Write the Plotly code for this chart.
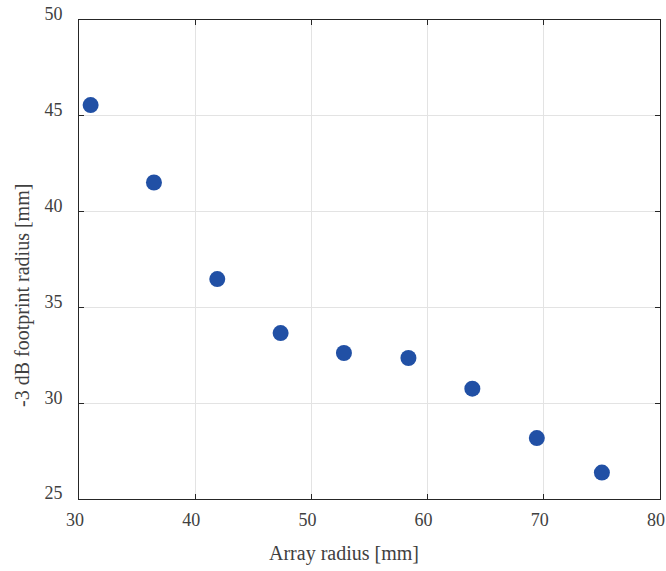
import plotly.graph_objects as go

array_radius = [31.0, 36.45, 41.9, 47.35, 52.8, 58.35, 63.85, 69.4, 75.0]
footprint_radius = [45.56, 41.52, 36.48, 33.66, 32.62, 32.36, 30.76, 28.18, 26.38]
x_ticks = [30, 40, 50, 60, 70, 80]
y_ticks = [25, 30, 35, 40, 45, 50]

FONT = "Times New Roman, Liberation Serif, serif"
TXT = "#404040"

fig = go.Figure()
fig.add_trace(go.Scatter(
    x=array_radius, y=footprint_radius, mode="markers",
    marker=dict(size=16, color="#2150A5", line=dict(width=0)),
    showlegend=False,
))

axis_common = dict(
    showline=True, linecolor="#262626", linewidth=1, mirror="allticks",
    ticks="inside", ticklen=5, tickcolor="#262626",
    showgrid=True, gridcolor="#e3e3e3", gridwidth=1, zeroline=False,
    tickfont=dict(family=FONT, size=18, color=TXT),
    automargin=False, ticklabeloverflow="allow",
)

fig.update_xaxes(range=[30, 80], tickvals=x_ticks, ticklabelshift=-4, ticklabelstandoff=4, **axis_common)
fig.update_yaxes(range=[25, 50], tickvals=y_ticks, ticklabelshift=-6, ticklabelstandoff=12, **axis_common)

fig.add_annotation(text="Array radius [mm]", xref="paper", yref="paper",
                   x=0.456, y=0, yshift=-54, xanchor="center", yanchor="middle",
                   showarrow=False, font=dict(family=FONT, size=20, color=TXT))
fig.add_annotation(text="-3 dB footprint radius [mm]", xref="paper", yref="paper",
                   x=0, y=0.424, xshift=-56, xanchor="center", yanchor="middle", textangle=-90,
                   showarrow=False, font=dict(family=FONT, size=20, color=TXT))

fig.update_layout(
    width=666, height=571,
    margin=dict(l=79, r=6, t=20, b=72),
    plot_bgcolor="white", paper_bgcolor="white",
    font=dict(family=FONT),
    hovermode=False,
)

fig.write_html("out.html", config={"displayModeBar": False},
               post_script="document.body.style.margin='0';document.body.style.overflow='hidden';")
